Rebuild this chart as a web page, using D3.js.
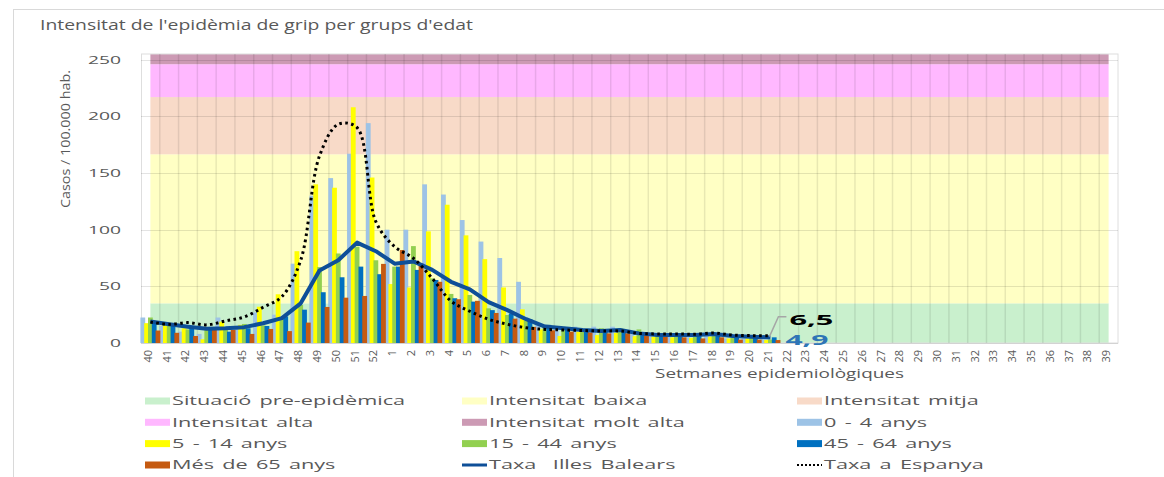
<!DOCTYPE html>
<html>
<head>
<meta charset="utf-8">
<script src="https://cdn.jsdelivr.net/npm/d3@7"></script>
<style>
  body { margin: 0; background: #fff; }
  svg { display: block; font-family: 'Open Sans', sans-serif; }
  text { white-space: pre; }
</style>
</head>
<body>
<svg id="chart" width="1164" height="477"></svg>
<script>
// Weeks 40..52 then 1..39
const weeks = d3.range(40, 53).concat(d3.range(1, 40)).map(String);

// Values per age group, weeks 40..21 (no data afterwards)
const age0_4   = [22.5, 15, 10, 8, 22.5, 13, 27, 25, 70, 130, 145.5, 167, 194, 100, 100, 140, 131, 108.5, 89.5, 75, 54, 17, 14.4, 14.4, 14.4, 14.4, 8.5, 7, 5.6, 5, 7, 4, 4, 3];
const age5_14  = [17.5, 18, 13, 3.3, 18.8, 16, 32, 43, 81, 140, 137, 208, 146, 52, 49, 98.5, 122, 95, 74, 49, 29.7, 12, 6.2, 10, 7, 9, 6, 5.6, 5, 4.5, 5.6, 4, 4, 2.6];
const age15_44 = [22.5, 17.5, 12, 12, 11.5, 16.8, 15.5, 22, 33.6, 67, 79, 85, 73, 67.4, 85.5, 57, 43.3, 42.4, 30.6, 24.7, 19.5, 15, 11.5, 11, 13, 13, 12, 7, 6, 6, 7, 5, 5, 3];
const age45_64 = [19, 15, 13.8, 12.5, 10, 13, 15, 23.5, 29.4, 44.8, 58, 67.4, 60.7, 67.4, 64.5, 55.6, 39.5, 36.5, 29, 26, 21, 16, 13, 10, 10, 10, 8.5, 8, 7.7, 7, 8, 6, 5, 5];
const age65    = [11, 9, 6.2, 12, 11.5, 8, 12.4, 10.5, 18, 31.8, 40, 41.5, 69.8, 82, 70, 54, 38.6, 37.2, 26.5, 21.5, 14.2, 11.2, 10, 9.4, 8.5, 8.5, 7, 5.6, 5, 4, 5, 3, 3, 2.6];

// Rates
const taxaIB  = [19, 16.5, 14.4, 12.6, 13, 14, 17.4, 22, 35, 64, 73, 88.6, 81, 70, 72, 64.5, 54, 47.4, 36, 29, 21, 14.5, 13, 11.5, 10.6, 11.5, 8.5, 7, 7, 7, 8, 6.2, 5.6, 4.9];
const taxaEsp = [18.5, 16.5, 18, 16, 19.5, 23, 31.5, 41, 73, 165, 193, 190, 107, 85, 74.8, 57, 37, 28, 21, 16.5, 13.5, 12, 11.5, 11, 10.6, 10.6, 8.5, 8, 8, 7.7, 8.8, 7, 6.5, 6.5];

// Intensity thresholds (upper limit of each band)
const bandNames = ['Situació pre-epidèmica', 'Intensitat baixa', 'Intensitat mitja', 'Intensitat alta', 'Intensitat molt alta'];
const bandTops = [35, 166.5, 217, 246, 255];
const bandColors = ['#c9f0cd', '#ffffc4', '#f8dac8', '#ffb8ff', '#cc9ab4'];

const ageNames = ['0 - 4 anys', '5 - 14 anys', '15 - 44 anys', '45 - 64 anys', 'Més de 65 anys'];
const ageColors = ['#9dc3e6', '#ffff00', '#92d050', '#0070c0', '#c55a11'];
const ageSeries = [age0_4, age5_14, age15_44, age45_64, age65];

const yTicks = [0, 50, 100, 150, 200, 250];

const svg = d3.select('#chart');
const textColor = '#595959';

// outer chart frame
svg.append('rect')
    .attr('x', 13.5).attr('y', 9.5)
    .attr('width', 1300).attr('height', 600)
    .attr('fill', 'none').attr('stroke', '#d9d9d9');

const x = d3.scaleBand().domain(weeks).range([141, 1118]).padding(0);
const bw = x.bandwidth();
const cx = w => x(w) + bw / 2;
const y = d3.scaleLinear().domain([0, 255]).range([343, 54]);

// background bands (from first to last category centre)
const bandX0 = cx(weeks[0]), bandX1 = cx(weeks[weeks.length - 1]);
svg.append('g').selectAll('rect')
    .data(bandTops)
    .enter().append('rect')
    .attr('x', bandX0)
    .attr('width', bandX1 - bandX0)
    .attr('y', d => y(d))
    .attr('height', (d, i) => y(i ? bandTops[i - 1] : 0) - y(d))
    .attr('fill', (d, i) => bandColors[i]);

// plot frame + horizontal gridlines
svg.append('rect')
    .attr('x', 141.5).attr('y', y(255))
    .attr('width', 1118 - 141.5).attr('height', y(0) - y(255))
    .attr('fill', 'none').attr('stroke', '#dedede');

svg.append('g').selectAll('line')
    .data(yTicks)
    .enter().append('line')
    .attr('x1', 141).attr('x2', 1118)
    .attr('y1', d => Math.round(y(d)) + 0.5)
    .attr('y2', d => Math.round(y(d)) + 0.5)
    .attr('stroke', '#000').attr('stroke-opacity', 0.11).attr('stroke-width', 1.2);

// vertical gridlines at category boundaries
svg.append('g').selectAll('line')
    .data(weeks.slice(1))
    .enter().append('line')
    .attr('x1', d => x(d)).attr('x2', d => x(d))
    .attr('y1', y(255)).attr('y2', y(0))
    .attr('stroke', '#000').attr('stroke-opacity', 0.09).attr('stroke-width', 1.5);

// bars
const barW = 4.8, barStep = 3.8;
ageSeries.forEach((vals, i) => {
    svg.append('g').selectAll('rect')
        .data(vals)
        .enter().append('rect')
        .attr('x', (d, j) => cx(weeks[j]) - 10 + i * barStep)
        .attr('width', barW)
        .attr('y', d => y(d))
        .attr('height', d => y(0) - y(d))
        .attr('fill', ageColors[i]);
});

// lines
const lineIB = d3.line()
    .x((d, j) => cx(weeks[j]))
    .y(d => y(d));
const lineEsp = d3.line()
    .x((d, j) => cx(weeks[j]))
    .y(d => y(d))
    .curve(d3.curveCatmullRom.alpha(0.5));

svg.append('path')
    .attr('d', lineIB(taxaIB))
    .attr('fill', 'none')
    .attr('stroke', '#0e4f98')
    .attr('stroke-width', 4)
    .attr('stroke-linejoin', 'round');

svg.append('path')
    .attr('d', lineEsp(taxaEsp))
    .attr('fill', 'none')
    .attr('stroke', '#000')
    .attr('stroke-width', 3)
    .attr('stroke-dasharray', '2.6,3.4');

// data labels at last point
const lastW = weeks[taxaEsp.length - 1];
const lx = cx(lastW), ly = y(taxaEsp[taxaEsp.length - 1]);
svg.append('path')
    .attr('d', `M${lx - 1},${ly + 1}L${lx + 8},${ly - 19}L${lx + 16},${ly - 19}`)
    .attr('fill', 'none').attr('stroke', '#a6a6a6').attr('stroke-width', 1.5);

function stretchTo(sel, w) {
    sel.attr('textLength', w).attr('lengthAdjust', 'spacingAndGlyphs');
}

const lab1 = svg.append('text')
    .attr('x', lx + 19).attr('y', 325)
    .attr('font-size', 14).attr('font-weight', 700).attr('fill', '#000')
    .text(taxaEsp[taxaEsp.length - 1].toString().replace('.', ','));
stretchTo(lab1, 44);
const lab2 = svg.append('text')
    .attr('x', lx + 15).attr('y', 344.5)
    .attr('font-size', 14).attr('font-weight', 700).attr('fill', '#2e75b6')
    .text(taxaIB[taxaIB.length - 1].toString().replace('.', ','));
stretchTo(lab2, 43);

// title
const title = svg.append('text')
    .attr('x', 40).attr('y', 30)
    .attr('font-size', 14).attr('fill', textColor)
    .text("Intensitat de l'epidèmia de grip per grups d'edat");
stretchTo(title, 433);

// y tick labels
svg.append('g').selectAll('text')
    .data(yTicks)
    .enter().append('text')
    .attr('x', 121).attr('y', d => y(d) + 4)
    .attr('text-anchor', 'end')
    .attr('font-size', 10.5).attr('fill', textColor)
    .attr('textLength', d => String(d).length * 11)
    .attr('lengthAdjust', 'spacingAndGlyphs')
    .text(d => d);

// y axis title
svg.append('text')
    .attr('transform', 'translate(70,139) rotate(-90)')
    .attr('text-anchor', 'middle')
    .attr('font-size', 12.5).attr('fill', textColor)
    .attr('textLength', 138).attr('lengthAdjust', 'spacingAndGlyphs')
    .text('Casos / 100.000 hab.');

// x tick labels
svg.append('g').selectAll('text')
    .data(weeks)
    .enter().append('text')
    .attr('transform', d => `translate(${cx(d) + 1.5},350) rotate(-90)`)
    .attr('text-anchor', 'end')
    .attr('font-size', 11).attr('fill', textColor)
    .text(d => d);

// x axis title
const xTitle = svg.append('text')
    .attr('x', 655).attr('y', 378)
    .attr('font-size', 12).attr('fill', textColor)
    .text('Setmanes epidemiològiques');
const k = 249 / xTitle.node().getComputedTextLength();
stretchTo(xTitle, 249);

// legend
const legendItems = bandNames.map((n, i) => ({ name: n, color: bandColors[i], type: 'box' }))
    .concat(ageNames.map((n, i) => ({ name: n, color: ageColors[i], type: 'bar' })))
    .concat([{ name: 'Taxa  Illes Balears', color: '#0e4f98', type: 'line' },
             { name: 'Taxa a Espanya', color: '#000', type: 'dots' }]);
const colX = [145, 462, 797];
const rowY = [401, 422.3, 443.6, 465];
const kL = k * 1.1;

const leg = svg.append('g').selectAll('g')
    .data(legendItems)
    .enter().append('g')
    .attr('transform', (d, i) => `translate(${colX[i % 3]},${rowY[Math.floor(i / 3)]})`);

leg.filter(d => d.type === 'box' || d.type === 'bar').append('rect')
    .attr('x', 0).attr('y', -3.5).attr('width', 25).attr('height', 7)
    .attr('fill', d => d.color);
leg.filter(d => d.type === 'line').append('line')
    .attr('x1', 0).attr('x2', 25).attr('y1', 0).attr('y2', 0)
    .attr('stroke', d => d.color).attr('stroke-width', 3);
leg.filter(d => d.type === 'dots').append('line')
    .attr('x1', 0).attr('x2', 25).attr('y1', 0).attr('y2', 0)
    .attr('stroke', d => d.color).attr('stroke-width', 2)
    .attr('stroke-dasharray', '2,2');

leg.append('text')
    .attr('transform', `translate(27,4.3) scale(${kL},1)`)
    .attr('font-size', 12.5).attr('word-spacing', 1.5).attr('fill', textColor)
    .text(d => d.name);
</script>
</body>
</html>
